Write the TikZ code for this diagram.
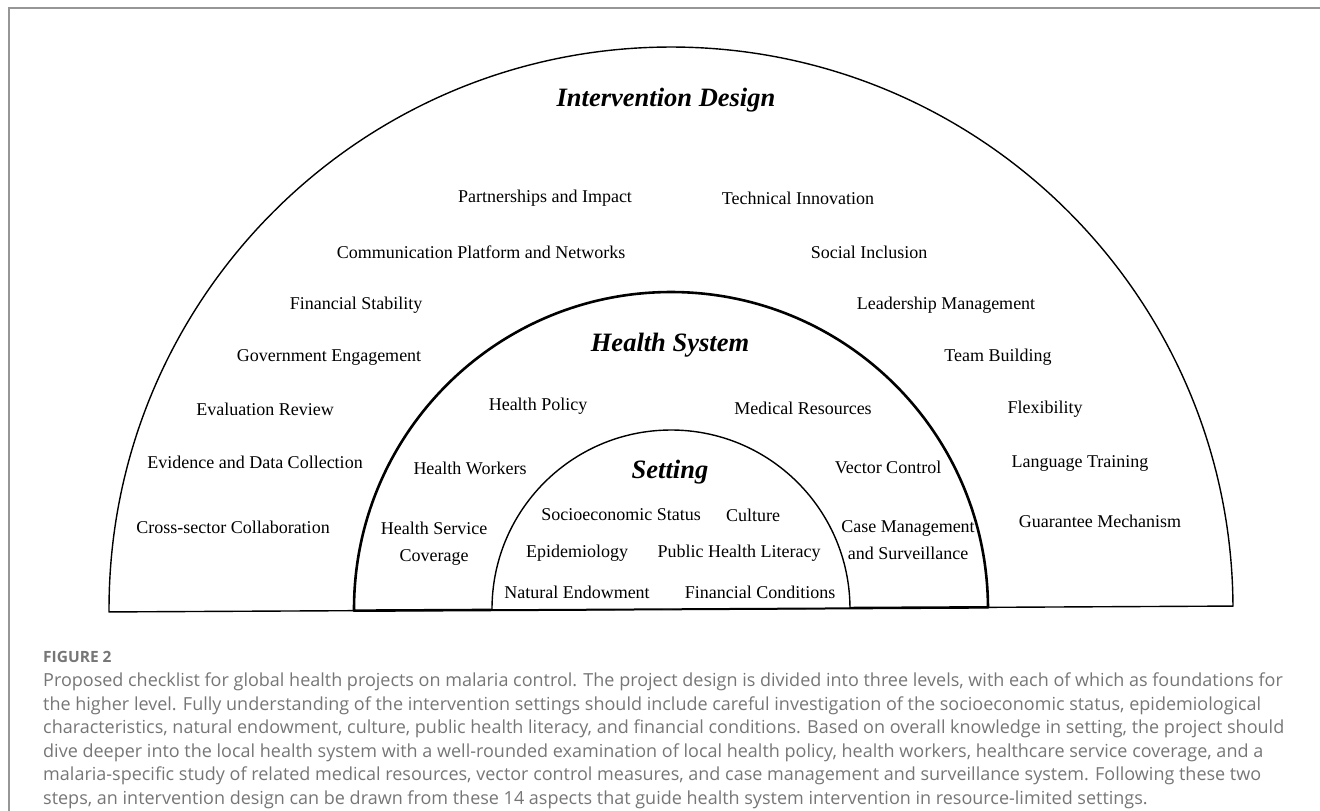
\documentclass[tikz,border=0pt]{standalone}
\usepackage{fontspec}
\setmainfont{Liberation Serif}
\newfontfamily\capfont{Open Sans}
\usepackage{tikz}
\usetikzlibrary{positioning}
\definecolor{frameGray}{RGB}{150,150,150}
\definecolor{capGray}{RGB}{118,118,118}

\begin{document}
\begin{tikzpicture}[x=1pt, y=-1pt,
  item/.style={inner sep=0pt, align=center, font=\fontsize{18}{27}\selectfont},
  ringtitle/.style={inner sep=0pt, font=\fontsize{26.5}{30}\selectfont\bfseries\itshape},
  ring/.style={black, line width=1.4pt, line join=round}]

\useasboundingbox (0,0) rectangle (1320,811);

% Frame
\draw[frameGray, line width=2pt] (1320,8) -- (9,8) -- (9,811);

% Rings: outer, middle, inner (common centre on the base line)
\coordinate (base) at (671,609);
\begin{scope}[rotate around={0.3:(base)}]
  \draw[ring] (109,609) arc[start angle=180, end angle=360, radius=562] -- cycle;
  \draw[ring, line width=2.6pt, fill=white] (354,609) arc[start angle=180, end angle=360, radius=317] -- cycle;
  \draw[ring, fill=white] (492,609) arc[start angle=180, end angle=360, radius=179] -- cycle;
\end{scope}

% Ring titles
\node[ringtitle] (design)  at (666,100) {Intervention Design};
\node[ringtitle] (hsystem) at (670,345) {Health System};
\node[ringtitle] (setting) at (670,472) {Setting};

% Intervention design: left side
\foreach \name/\x/\y/\lab in {
    partner/545/198/{Partnerships and Impact},
    comm/481/252/{Communication Platform and Networks},
    finstab/356/305/{Financial Stability},
    gov/329/357/{Government Engagement},
    evalrev/265/409/{Evaluation Review},
    evidence/255/462/{Evidence and Data Collection},
    cross/233/527/{Cross-sector Collaboration}}
  \node[item] (\name) at (\x,\y) {\lab};

% Intervention design: right side
\foreach \name/\x/\y/\lab in {
    techinno/798/198/{Technical Innovation},
    social/869/252/{Social Inclusion},
    leader/946/305/{Leadership Management},
    team/998/357/{Team Building},
    flex/1045/409/{Flexibility},
    lang/1080/463/{Language Training},
    guarantee/1100/521/{Guarantee Mechanism}}
  \node[item] (\name) at (\x,\y) {\lab};

% Health system
\foreach \name/\x/\y/\lab in {
    policy/538/406/{Health Policy},
    medres/803/408/{Medical Resources},
    workers/470/468/{Health Workers},
    vector/888/467/{Vector Control},
    service/434/544/{Health Service\\Coverage},
    casemgmt/908/540/{Case Management\\and Surveillance}}
  \node[item] (\name) at (\x,\y) {\lab};

% Setting
\foreach \name/\x/\y/\lab in {
    socio/621/515/{Socioeconomic Status},
    culture/753/515/{Culture},
    epi/577/553/{Epidemiology},
    literacy/739/553/{Public Health Literacy},
    natural/577/592/{Natural Endowment},
    fincond/760/592/{Financial Conditions}}
  \node[item] (\name) at (\x,\y) {\lab};

% Caption
\node[anchor=west, inner sep=0pt, text=capGray,
      font=\capfont\fontsize{15.5}{18}\selectfont\bfseries] (figlabel) at (43,657) {FIGURE 2};
\node[anchor=north west, inner sep=0pt, text=capGray, align=left,
      font=\capfont\fontsize{18}{23.5}\selectfont] (caption) at (43,673)
  {Proposed checklist for global health projects on malaria control. The project design is divided into three levels, with each of which as foundations for\\
   the higher level. Fully understanding of the intervention settings should include careful investigation of the socioeconomic status, epidemiological\\
   characteristics, natural endowment, culture, public health literacy, and financial conditions. Based on overall knowledge in setting, the project should\\
   dive deeper into the local health system with a well-rounded examination of local health policy, health workers, healthcare service coverage, and a\\
   malaria-specific study of related medical resources, vector control measures, and case management and surveillance system. Following these two\\
   steps, an intervention design can be drawn from these 14 aspects that guide health system intervention in resource-limited settings.};

\end{tikzpicture}
\end{document}
